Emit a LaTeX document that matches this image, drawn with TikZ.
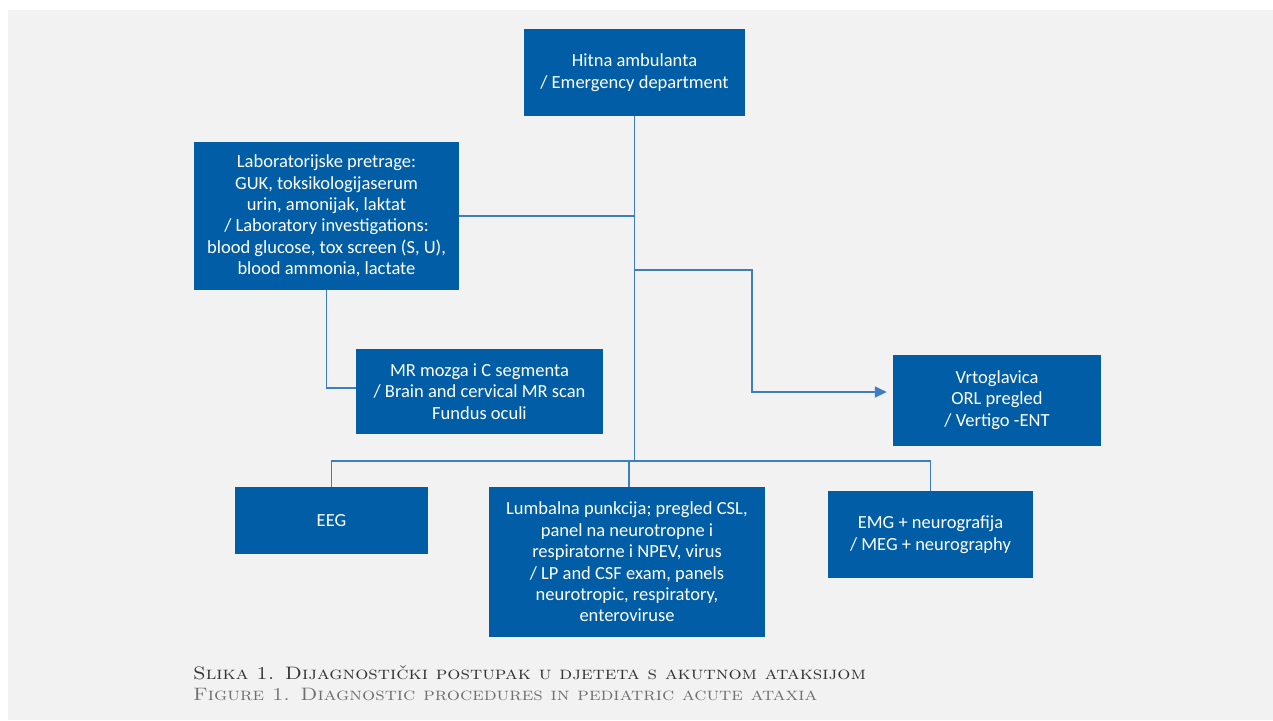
\documentclass[tikz,border=0pt]{standalone}
\usepackage{fontspec}
\newfontfamily\boxfont{Carlito}
\usetikzlibrary{arrows.meta}
\definecolor{bg}{HTML}{F2F2F2}
\definecolor{boxblue}{HTML}{005DA6}
\definecolor{lineblue}{HTML}{3D7EC2}
\definecolor{capdark}{HTML}{333333}
\definecolor{capgray}{HTML}{707070}
\tikzset{
  bluebox/.style={fill=boxblue, text=white, draw=none, align=center,
    inner sep=0pt, font=\boxfont\fontsize{18.5}{21.4}\selectfont},
  conn/.style={draw=lineblue, line width=1.4pt},
  arrowconn/.style={conn, -{Triangle[length=12pt,width=11pt]}, shorten >=6pt},
  captext/.style={anchor=base west, inner sep=0pt, font=\fontsize{18}{21}\selectfont}
}
\begin{document}
\begin{tikzpicture}[x=1pt,y=-1pt]
\useasboundingbox (0,0) rectangle (1273,720);
\fill[white] (0,0) rectangle (1273,720);
\fill[bg] (8,10) rectangle (1273,720);

\node[bluebox, minimum width=221pt, minimum height=87pt] (top) at (634.5,72.5)
  {Hitna ambulanta\\/ Emergency department};
\node[bluebox, minimum width=265pt, minimum height=148pt] (lab) at (326.5,216)
  {Laboratorijske pretrage:\\GUK, toksikologijaserum\\urin, amonijak, laktat\\/ Laboratory investigations:\\blood glucose, tox screen (S, U),\\blood ammonia, lactate};
\node[bluebox, minimum width=247pt, minimum height=85pt] (mr) at (479.5,391.5)
  {MR mozga i C segmenta\\/ Brain and cervical MR scan\\Fundus oculi};
\node[bluebox, minimum width=208pt, minimum height=91pt] (vrt) at (997,400)
  {Vrtoglavica\\ORL pregled\\/ Vertigo -ENT};
\node[bluebox, minimum width=193pt, minimum height=67pt] (eeg) at (331.5,520.5)
  {EEG};
\node[bluebox, minimum width=276pt, minimum height=150pt] (lp) at (627,562)
  {Lumbalna punkcija; pregled CSL,\\panel na neurotropne i\\respiratorne i NPEV, virus\\/ LP and CSF exam, panels\\neurotropic, respiratory,\\enteroviruse};
\node[bluebox, minimum width=205pt, minimum height=87pt] (emg) at (930.5,534.5)
  {EMG + neurografija\\/ MEG + neurography};

\coordinate (bus) at (top.south |- 0,461);
\coordinate (b1) at (top.south |- 0,270);
\coordinate (c1) at (752,270);

\draw[conn] (top.south) -- (bus);
\draw[conn] (lab.east) -- (lab.east -| top.south);
\draw[conn] (lab.south) |- ([yshift=3.5pt]mr.west);
\draw[arrowconn] (b1) -- (c1) |- ([yshift=8pt]vrt.west);
\draw[conn] (eeg.north) |- (bus);
\draw[conn] (emg.north) |- (bus);
\draw[conn] ([xshift=2pt]lp.north) -- ([xshift=2pt]lp.north |- bus);

\node[captext, text=capdark] (cap1) at (193,679)
  {\scalebox{1.15}[1]{\textsc{Slika 1. Dijagnostički postupak u djeteta s akutnom ataksijom}}};
\node[captext, text=capgray] (cap2) at (193,700)
  {\scalebox{1.15}[1]{\textsc{Figure 1. Diagnostic procedures in pediatric acute ataxia}}};
\end{tikzpicture}
\end{document}
